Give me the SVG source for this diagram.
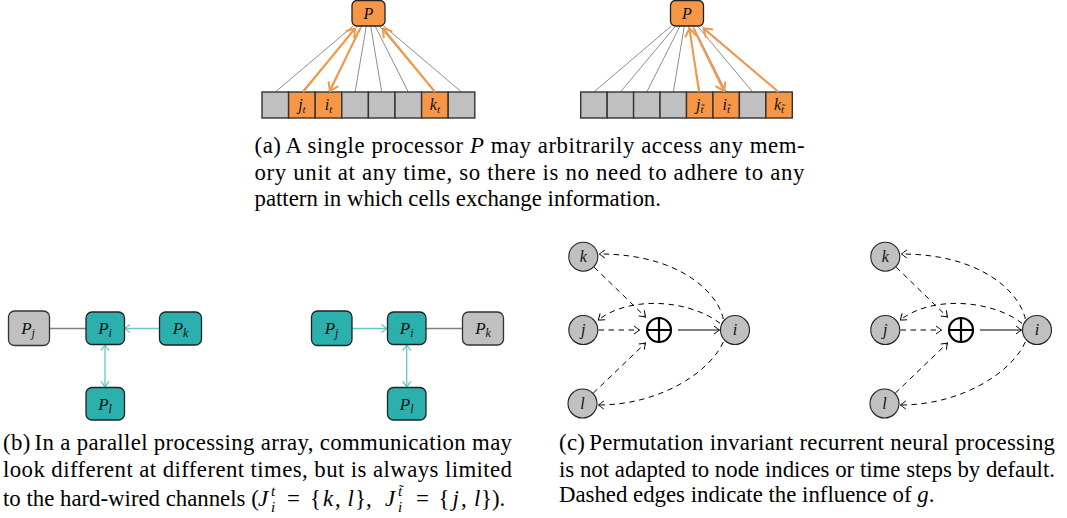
<svg xmlns="http://www.w3.org/2000/svg" width="1067" height="518" viewBox="0 0 1067 518">
<style>
.cap{font-family:"Liberation Serif","Times New Roman",serif;font-size:22.8px;fill:#000}
.m{font-style:italic}
.s{font-style:italic;font-size:15px}
.lbl{font-family:"Liberation Serif","Times New Roman",serif;font-style:italic;text-anchor:middle;fill:#111}
.cell{fill:#c0c0c0;stroke:#333;stroke-width:1.4}
.cello{fill:#F79646;stroke:#333;stroke-width:1.4}
.pbox{fill:#F79646;stroke:#222;stroke-width:1.3}
.wire{stroke:#808080;stroke-width:0.9;fill:none}
.oarr{stroke:#F79646;stroke-width:2;fill:none;marker-end:url(#ah-o)}
.tbox{fill:#2CB0AD;stroke:#222;stroke-width:1.3}
.gbox{fill:#c0c0c0;stroke:#333;stroke-width:1.3}
.gline{stroke:#808080;stroke-width:1.3;fill:none}
.tline{stroke:#62CACA;stroke-width:1.3;fill:none}
.node{fill:#c0c0c0;stroke:#222;stroke-width:1.1}
.dash{stroke:#000;stroke-width:1;fill:none;stroke-dasharray:5.5 4.5;marker-end:url(#ah-k)}
.solid{stroke:#000;stroke-width:1;fill:none;marker-end:url(#ah-k)}
</style>
<defs>
<marker id="ah-k" viewBox="-7 -5 8 10" refX="0" refY="0" markerWidth="8" markerHeight="10" markerUnits="userSpaceOnUse" orient="auto-start-reverse">
<path d="M-5.5,-4 Q-1.5,-1 0,0 Q-1.5,1 -5.5,4" fill="none" stroke="#000" stroke-width="1"/>
</marker>
<marker id="ah-o" viewBox="-10 -7 11 14" refX="0" refY="0" markerWidth="11" markerHeight="14" markerUnits="userSpaceOnUse" orient="auto-start-reverse">
<path d="M-8,-5.5 Q-2,-1.5 0,0 Q-2,1.5 -8,5.5" fill="none" stroke="#F79646" stroke-width="2"/>
</marker>
<marker id="ah-t" viewBox="-7 -5 8 10" refX="0" refY="0" markerWidth="8" markerHeight="10" markerUnits="userSpaceOnUse" orient="auto-start-reverse">
<path d="M-5.5,-4 Q-1.5,-1 0,0 Q-1.5,1 -5.5,4" fill="none" stroke="#62CACA" stroke-width="1.3"/>
</marker>
</defs>

<!-- (a) left: memory at time t -->
<g id="mem-t">
<g id="wires-t">
<path class="wire" d="M275.3,92 L353.2,26"/>
<path class="wire" d="M301.9,92 L357.5,26"/>
<path class="wire" d="M328.5,92 L361.9,26"/>
<path class="wire" d="M355.1,92 L366.3,26"/>
<path class="wire" d="M381.7,92 L370.7,26"/>
<path class="wire" d="M408.3,92 L375.1,26"/>
<path class="wire" d="M434.9,92 L379.4,26"/>
<path class="wire" d="M461.5,92 L383.8,26"/>
</g>
<g id="cells-t">
<rect class="cell" x="262" y="92" width="26.6" height="26"/>
<rect class="cello" x="288.6" y="92" width="26.6" height="26"/>
<rect class="cello" x="315.2" y="92" width="26.6" height="26"/>
<rect class="cell" x="341.8" y="92" width="26.6" height="26"/>
<rect class="cell" x="368.4" y="92" width="26.6" height="26"/>
<rect class="cell" x="395" y="92" width="26.6" height="26"/>
<rect class="cello" x="421.6" y="92" width="26.6" height="26"/>
<rect class="cell" x="448.2" y="92" width="26.6" height="26"/>
<text class="lbl" x="301.9" y="110" font-size="16">j<tspan font-size="11" dy="3">t</tspan></text>
<text class="lbl" x="328.5" y="110" font-size="16">i<tspan font-size="11" dy="3">t</tspan></text>
<text class="lbl" x="434.9" y="110" font-size="16">k<tspan font-size="11" dy="3">t</tspan></text>
</g>
<g id="access-t">
<path class="oarr" d="M303,92 L355,28.5"/>
<path class="oarr" d="M360,28.5 L330,91"/>
<path class="oarr" d="M435,92 L383,28.5"/>
</g>
<g id="P-t">
<rect class="pbox" x="352" y="0.5" width="33" height="25.5" rx="5"/>
<text class="lbl" x="368.5" y="18.5" font-size="16">P</text>
</g>
</g>

<!-- (a) right: memory at time t~ -->
<g id="mem-tt">
<g id="wires-tt">
<path class="wire" d="M593.9,92 L671.3,26"/>
<path class="wire" d="M620.4,92 L675.6,26"/>
<path class="wire" d="M646.8,92 L680,26"/>
<path class="wire" d="M673.3,92 L684.3,26"/>
<path class="wire" d="M699.7,92 L688.7,26"/>
<path class="wire" d="M726.2,92 L693,26"/>
<path class="wire" d="M752.6,92 L697.4,26"/>
<path class="wire" d="M779.1,92 L701.7,26"/>
</g>
<g id="cells-tt">
<rect class="cell" x="580.7" y="92" width="26.45" height="26"/>
<rect class="cell" x="607.15" y="92" width="26.45" height="26"/>
<rect class="cell" x="633.6" y="92" width="26.45" height="26"/>
<rect class="cell" x="660.05" y="92" width="26.45" height="26"/>
<rect class="cello" x="686.5" y="92" width="26.45" height="26"/>
<rect class="cello" x="712.95" y="92" width="26.45" height="26"/>
<rect class="cell" x="739.4" y="92" width="26.45" height="26"/>
<rect class="cello" x="765.85" y="92" width="26.45" height="26"/>
<text class="lbl" x="699.7" y="110" font-size="16">j<tspan font-size="11" dy="3">t&#x303;</tspan></text>
<text class="lbl" x="726.2" y="110" font-size="16">i<tspan font-size="11" dy="3">t&#x303;</tspan></text>
<text class="lbl" x="779.1" y="110" font-size="16">k<tspan font-size="11" dy="3">t&#x303;</tspan></text>
</g>
<g id="access-tt">
<path class="oarr" d="M699,92 L689.5,28.5"/>
<path class="oarr" d="M693.5,28.5 L724,91"/>
<path class="oarr" d="M778.5,92 L703.5,28.5"/>
</g>
<g id="P-tt">
<rect class="pbox" x="670.5" y="0.5" width="33" height="25.5" rx="5"/>
<text class="lbl" x="687" y="18.5" font-size="16">P</text>
</g>
</g>

<g id="caption-a">
<text class="cap" x="254.5" y="153" textLength="550" lengthAdjust="spacing">(a)<tspan dx="4">A single processor </tspan><tspan class="m">P</tspan> may arbitrarily access any mem-</text>
<text class="cap" x="254.5" y="180" textLength="550" lengthAdjust="spacing">ory unit at any time, so there is no need to adhere to any</text>
<text class="cap" x="254.5" y="206">pattern in which cells exchange information.</text>
</g>

<!-- (b) left -->
<g id="array-t">
<g id="conn-b1">
<path class="gline" d="M49.5,328.5 L86,328.5"/>
<path class="tline" d="M159.5,328.5 L124.5,328.5" marker-end="url(#ah-t)"/>
<path class="tline" d="M105,345 L105,387" marker-start="url(#ah-t)" marker-end="url(#ah-t)"/>
</g>
<g id="b1-Pj"><rect class="gbox" x="8.5" y="311" width="41" height="34.5" rx="6"/><text class="lbl" x="28" y="334" font-size="17">P<tspan font-size="12" dy="3">j</tspan></text></g>
<g id="b1-Pi"><rect class="tbox" x="86" y="312" width="38.5" height="32.5" rx="6"/><text class="lbl" x="105" y="334" font-size="17">P<tspan font-size="12" dy="3">i</tspan></text></g>
<g id="b1-Pk"><rect class="tbox" x="159.5" y="312" width="42" height="33" rx="6"/><text class="lbl" x="180.5" y="334" font-size="17">P<tspan font-size="12" dy="3">k</tspan></text></g>
<g id="b1-Pl"><rect class="tbox" x="86" y="387.5" width="38.5" height="32.5" rx="6"/><text class="lbl" x="105" y="409.5" font-size="17">P<tspan font-size="12" dy="3">l</tspan></text></g>
</g>

<!-- (b) right -->
<g id="array-tt">
<g id="conn-b2">
<path class="tline" d="M352,328.5 L387,328.5" marker-end="url(#ah-t)"/>
<path class="gline" d="M426,328.5 L462.5,328.5"/>
<path class="tline" d="M406.7,345 L406.7,387" marker-start="url(#ah-t)" marker-end="url(#ah-t)"/>
</g>
<g id="b2-Pj"><rect class="tbox" x="311.5" y="311" width="40.5" height="34.5" rx="6"/><text class="lbl" x="331.5" y="334" font-size="17">P<tspan font-size="12" dy="3">j</tspan></text></g>
<g id="b2-Pi"><rect class="tbox" x="387.5" y="312" width="38.5" height="32.5" rx="6"/><text class="lbl" x="406.7" y="334" font-size="17">P<tspan font-size="12" dy="3">i</tspan></text></g>
<g id="b2-Pk"><rect class="gbox" x="462.5" y="312" width="41" height="33" rx="6"/><text class="lbl" x="483" y="334" font-size="17">P<tspan font-size="12" dy="3">k</tspan></text></g>
<g id="b2-Pl"><rect class="tbox" x="387.5" y="387.5" width="38.5" height="32.5" rx="6"/><text class="lbl" x="406.7" y="409.5" font-size="17">P<tspan font-size="12" dy="3">l</tspan></text></g>
</g>

<g id="caption-b">
<text class="cap" x="3" y="450" textLength="509" lengthAdjust="spacing">(b)<tspan dx="4">In a parallel processing array, communication may</tspan></text>
<text class="cap" x="3" y="477" textLength="509" lengthAdjust="spacing">look different at different times, but is always limited</text>
<text class="cap" x="3" y="506">to the hard-wired channels (<tspan class="m" x="258" y="506">J</tspan><tspan class="s" x="271" y="511.5">i</tspan><tspan class="s" x="271" y="496">t</tspan><tspan x="287" y="506">=</tspan><tspan x="310">{</tspan><tspan class="m" x="323">k</tspan><tspan x="335">,</tspan><tspan class="m" x="347.5">l</tspan><tspan x="355">},</tspan><tspan class="m" x="385">J</tspan><tspan class="s" x="398" y="511.5">i</tspan><tspan class="s" x="398" y="496">t&#x303;</tspan><tspan x="416" y="506">=</tspan><tspan x="438.5">{</tspan><tspan class="m" x="452.5">j</tspan><tspan x="461">,</tspan><tspan class="m" x="474">l</tspan><tspan x="481">}).</tspan></text>
</g>

<!-- (c) left -->
<g id="rnn-1">
<g id="edges-c1">
<path class="dash" d="M598.5,330 L639.5,330"/>
<path class="solid" d="M678,330 L719.5,330"/>
<path class="dash" d="M594.1,267.1 L645.5,317"/>
<path class="dash" d="M593.3,393.1 L645.5,343"/>
<path class="dash" d="M723.3,319 C718,293 680,254 599.3,254"/>
<path class="dash" d="M720,323.3 C690,300 630,295 598.3,320"/>
<path class="dash" d="M723.3,342 C710,372 660,405 598.3,405"/>
</g>
<g id="c1-k"><circle class="node" cx="583.3" cy="256.7" r="14.5"/><text class="lbl" x="583.3" y="262" font-size="16">k</text></g>
<g id="c1-j"><circle class="node" cx="583.3" cy="330" r="14.5"/><text class="lbl" x="583.3" y="335" font-size="16">j</text></g>
<g id="c1-l"><circle class="node" cx="582.5" cy="403.5" r="14.5"/><text class="lbl" x="582.5" y="409" font-size="16">l</text></g>
<g id="c1-i"><circle class="node" cx="735" cy="330" r="14.5"/><text class="lbl" x="735" y="335" font-size="16">i</text></g>
<g id="c1-sum"><circle cx="659" cy="330" r="12" fill="#fff" stroke="#000" stroke-width="2.2"/><path d="M647,330 H671 M659,318 V342" stroke="#000" stroke-width="2.2"/></g>
</g>

<!-- (c) right -->
<g id="rnn-2" transform="translate(302,0)">
<g id="edges-c2">
<path class="dash" d="M598.5,330 L639.5,330"/>
<path class="solid" d="M678,330 L719.5,330"/>
<path class="dash" d="M594.1,267.1 L645.5,317"/>
<path class="dash" d="M593.3,393.1 L645.5,343"/>
<path class="dash" d="M723.3,319 C718,293 680,254 599.3,254"/>
<path class="dash" d="M720,323.3 C690,300 630,295 598.3,320"/>
<path class="dash" d="M723.3,342 C710,372 660,405 598.3,405"/>
</g>
<g id="c2-k"><circle class="node" cx="583.3" cy="256.7" r="14.5"/><text class="lbl" x="583.3" y="262" font-size="16">k</text></g>
<g id="c2-j"><circle class="node" cx="583.3" cy="330" r="14.5"/><text class="lbl" x="583.3" y="335" font-size="16">j</text></g>
<g id="c2-l"><circle class="node" cx="582.5" cy="403.5" r="14.5"/><text class="lbl" x="582.5" y="409" font-size="16">l</text></g>
<g id="c2-i"><circle class="node" cx="735" cy="330" r="14.5"/><text class="lbl" x="735" y="335" font-size="16">i</text></g>
<g id="c2-sum"><circle cx="659" cy="330" r="12" fill="#fff" stroke="#000" stroke-width="2.2"/><path d="M647,330 H671 M659,318 V342" stroke="#000" stroke-width="2.2"/></g>
</g>

<g id="caption-c">
<text class="cap" x="559" y="450" textLength="496" lengthAdjust="spacing">(c)<tspan dx="4">Permutation invariant recurrent neural processing</tspan></text>
<text class="cap" x="559" y="477" textLength="496" lengthAdjust="spacing">is not adapted to node indices or time steps by default.</text>
<text class="cap" x="559" y="502">Dashed edges indicate the influence of <tspan class="m">g</tspan>.</text>
</g>
</svg>
